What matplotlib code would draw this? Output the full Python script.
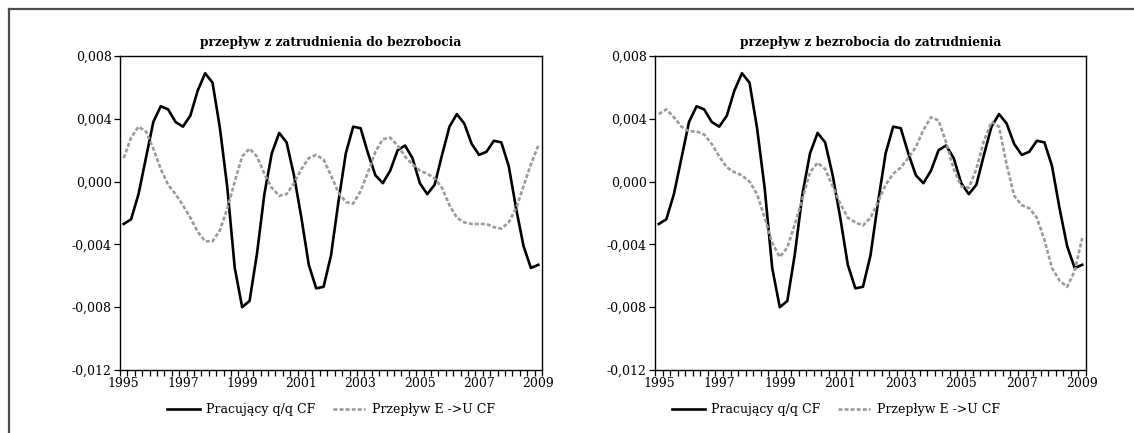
import matplotlib
matplotlib.use("Agg")
import matplotlib.pyplot as plt
from matplotlib.lines import Line2D

plt.rcParams['font.family'] = ['DejaVu Serif']

# quarterly data 1995Q1 .. 2009Q1
year_labels = ["1995", "1997", "1999", "2001", "2003", "2005", "2007", "2009"]
y_ticks = [0.008, 0.004, 0.000, -0.004, -0.008, -0.012]
y_tick_labels = ["0,008", "0,004", "0,000", "-0,004", "-0,008", "-0,012"]

pracujacy = [-0.0027, -0.0024, -0.0008, 0.0015, 0.0038, 0.0048, 0.0046, 0.0038,
             0.0035, 0.0042, 0.0058, 0.0069, 0.0063, 0.0034, -0.0004, -0.0055,
             -0.0080, -0.0076, -0.0046, -0.0008, 0.0018, 0.0031, 0.0025, 0.0004,
             -0.0023, -0.0053, -0.0068, -0.0067, -0.0047, -0.0013, 0.0018, 0.0035,
             0.0034, 0.0018, 0.0004, -0.0001, 0.0007, 0.0020, 0.0023, 0.0015,
             -0.0001, -0.0008, -0.0002, 0.0017, 0.0035, 0.0043, 0.0037, 0.0024,
             0.0017, 0.0019, 0.0026, 0.0025, 0.0010, -0.0017, -0.0041, -0.0055,
             -0.0053]

przeplyw_EU = [0.0015, 0.0028, 0.0035, 0.0032, 0.0021, 0.0008, -0.0002, -0.0008,
               -0.0015, -0.0023, -0.0032, -0.0038, -0.0038, -0.0031, -0.0017, 0.0000,
               0.0016, 0.0021, 0.0016, 0.0005, -0.0004, -0.0009, -0.0008, -0.0001,
               0.0008, 0.0015, 0.0017, 0.0014, 0.0004, -0.0007, -0.0013, -0.0014,
               -0.0006, 0.0006, 0.0019, 0.0027, 0.0028, 0.0023, 0.0016, 0.0011,
               0.0007, 0.0005, 0.0002, -0.0004, -0.0015, -0.0023, -0.0026, -0.0027,
               -0.0027, -0.0027, -0.0029, -0.0030, -0.0026, -0.0017, -0.0003, 0.0011,
               0.0023]

przeplyw_UE = [0.0043, 0.0046, 0.0041, 0.0035, 0.0032, 0.0032, 0.0030, 0.0024,
               0.0016, 0.0009, 0.0006, 0.0004, 0.0000, -0.0008, -0.0023, -0.0039,
               -0.0048, -0.0042, -0.0027, -0.0011, 0.0006, 0.0012, 0.0008, -0.0003,
               -0.0014, -0.0023, -0.0026, -0.0028, -0.0023, -0.0013, -0.0002, 0.0005,
               0.0009, 0.0015, 0.0022, 0.0033, 0.0041, 0.0039, 0.0025, 0.0008,
               -0.0003, -0.0004, 0.0008, 0.0026, 0.0038, 0.0035, 0.0011, -0.0009,
               -0.0015, -0.0017, -0.0023, -0.0037, -0.0055, -0.0063, -0.0067, -0.0057,
               -0.0036]

titles = ["przepływ z zatrudnienia do bezrobocia", "przepływ z bezrobocia do zatrudnienia"]
series_names = ["Pracujący q/q CF", "Przepływ E ->U CF"]

fig = plt.figure(figsize=(11.34, 4.33), dpi=100)
W, H = 1134, 433

def fx(px):
    return px / W

def fy(py):
    return 1 - py / H

panels = [
    dict(l=120, r=542, flow=przeplyw_EU, title=titles[0], legx=331),
    dict(l=655, r=1086, flow=przeplyw_UE, title=titles[1], legx=836),
]
top, bottom = 56, 370
n = len(pracujacy)
x = list(range(n))

for p in panels:
    ax = fig.add_axes([fx(p['l']), fy(bottom), fx(p['r'] - p['l']), (bottom - top) / H])
    ax.plot(x, pracujacy, color='black', lw=1.9, label=series_names[0])
    ax.plot(x, p['flow'], color='#9a9a9a', lw=1.9, ls=(0, (1.5, 0.8)), label=series_names[1])
    ax.set_xlim(-0.5, n - 0.5)
    ax.set_ylim(-0.012, 0.008)
    ax.set_yticks(y_ticks)
    ax.set_yticklabels(y_tick_labels)
    ax.set_xticks([i * 8 for i in range(len(year_labels))])
    ax.set_xticklabels(year_labels)
    ax.set_xticks([i - 0.5 for i in range(n + 1)], minor=True)
    ax.tick_params(axis='x', which='major', length=0, pad=5, labelsize=9)
    ax.tick_params(axis='x', which='minor', length=4, width=0.9, direction='out')
    ax.tick_params(axis='y', length=4, width=0.9, direction='out', labelsize=9, pad=2)
    for s in ax.spines.values():
        s.set_linewidth(1.0)
    ax.set_title(p['title'], fontsize=8.7, fontweight='bold', pad=7)
    fig.legend(handles=ax.get_lines(), labels=series_names, loc='center',
               bbox_to_anchor=(fx(p['legx']), fy(410)), ncol=2, frameon=False,
               fontsize=9, handlelength=2.6, handletextpad=0.5, columnspacing=1.4)

# outer frame lines
fig.add_artist(Line2D([fx(9), 1.0], [fy(9), fy(9)], color='#4d4d4d', lw=1.6))
fig.add_artist(Line2D([fx(9), fx(9)], [fy(9), 0.0], color='#4d4d4d', lw=1.6))

fig.savefig("out.png", dpi=100)
